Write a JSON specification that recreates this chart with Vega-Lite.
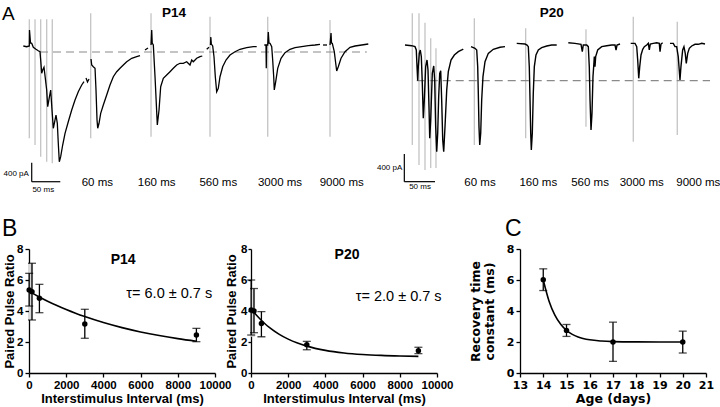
{
"$schema": "https://vega.github.io/schema/vega-lite/v6.json",
"background": "white",
"padding": {"left": 2, "top": 0, "right": 0, "bottom": 0},
"autosize": {"type": "pad"},
"spacing": 18,
"config": {
  "view": {"stroke": null},
  "axis": {"labelFont": "Liberation Sans", "labelFontWeight": "bold", "labelFontSize": 11.5, "labelColor": "black", "titleFont": "Liberation Sans", "titleFontWeight": "bold", "titleFontSize": 13, "titleColor": "black", "domainColor": "black", "tickColor": "black", "domainWidth": 1.3, "tickWidth": 1.3, "tickSize": 4, "grid": false, "labelPadding": 2, "titlePadding": 2, "labelFlush": false, "labelOverlap": false},
  "text": {"font": "Liberation Sans", "color": "black"},
  "title": {"font": "Liberation Sans", "color": "black"}
},
"datasets": {
  "tr14": [
    {"s":"1","t":-1.2,"I":126},{"s":"1","t":4.7,"I":111},{"s":"1","t":9.3,"I":126},{"s":"1","t":9.6,"I":462},{"s":"1","t":11.4,"I":189},{"s":"1","t":13.5,"I":183},{"s":"1","t":16.3,"I":99},{"s":"1","t":21,"I":57},{"s":"1","t":25,"I":27},{"s":"1","t":28,"I":6},{"s":"1","t":29.2,"I":-168},{"s":"1","t":31,"I":-447},{"s":"1","t":32.7,"I":-378},{"s":"1","t":35,"I":-321},{"s":"1","t":37.3,"I":-552},{"s":"1","t":39.7,"I":-798},{"s":"1","t":41.5,"I":-1149},{"s":"1","t":44.3,"I":-951},{"s":"1","t":46.7,"I":-798},{"s":"1","t":49,"I":-1218},{"s":"1","t":51.3,"I":-1602},{"s":"1","t":53.7,"I":-1464},{"s":"1","t":56,"I":-1323},{"s":"1","t":58.3,"I":-1497},{"s":"1","t":60,"I":-1917},{"s":"1","t":61.8,"I":-2304},{"s":"1","t":64.2,"I":-2199},{"s":"1","t":67.7,"I":-1953},{"s":"1","t":71.8,"I":-1707},{"s":"1","t":77.5,"I":-1464},{"s":"1","t":83.5,"I":-1218},{"s":"1","t":89.3,"I":-1008},{"s":"1","t":95,"I":-834},{"s":"1","t":101,"I":-693},{"s":"1","t":105,"I":-624},
    {"s":"1a","t":108.5,"I":-546},{"s":"1a","t":111.1,"I":-630},{"s":"1a","t":113.8,"I":-567},
    {"s":"2","t":117.3,"I":-147},{"s":"2","t":118.5,"I":-273},{"s":"2","t":121.3,"I":-309},{"s":"2","t":124.3,"I":-342},{"s":"2","t":126,"I":-798},{"s":"2","t":127.8,"I":-1428},{"s":"2","t":129,"I":-1602},{"s":"2","t":131.3,"I":-1497},{"s":"2","t":134.2,"I":-1287},{"s":"2","t":138.8,"I":-1113},{"s":"2","t":144.7,"I":-903},{"s":"2","t":150.5,"I":-693},{"s":"2","t":156.3,"I":-519},{"s":"2","t":162.2,"I":-414},{"s":"2","t":168,"I":-342},{"s":"2","t":173.8,"I":-273},{"s":"2","t":179.7,"I":-204},{"s":"2","t":188.5,"I":-132},{"s":"2","t":197.2,"I":-99},{"s":"2","t":203,"I":-78},
    {"s":"3a","t":211.8,"I":42},{"s":"3a","t":217,"I":84},
    {"s":"3","t":222.3,"I":147},{"s":"3","t":223.5,"I":462},{"s":"3","t":224.4,"I":189},{"s":"3","t":226.3,"I":147},{"s":"3","t":229.3,"I":-519},{"s":"3","t":233.3,"I":-1533},{"s":"3","t":236.3,"I":-1218},{"s":"3","t":239.2,"I":-729},{"s":"3","t":243.8,"I":-552},{"s":"3","t":249.7,"I":-483},{"s":"3","t":255.5,"I":-414},{"s":"3","t":261.3,"I":-342},{"s":"3","t":267.2,"I":-273},{"s":"3","t":273,"I":-237},{"s":"3","t":278.8,"I":-237},{"s":"3","t":284.7,"I":-204},{"s":"3","t":290.5,"I":-273},{"s":"3","t":293.5,"I":-168},{"s":"3","t":296.3,"I":-204},{"s":"3","t":302.2,"I":-132},{"s":"3","t":308,"I":-99},{"s":"3","t":312,"I":-84},
    {"s":"4a","t":319.7,"I":57},{"s":"4a","t":323.8,"I":99},
    {"s":"4","t":326.4,"I":147},{"s":"4","t":326.9,"I":315},{"s":"4","t":327.8,"I":168},{"s":"4","t":330.2,"I":126},{"s":"4","t":332.5,"I":-99},{"s":"4","t":334.8,"I":-519},{"s":"4","t":337.2,"I":-834},{"s":"4","t":340,"I":-762},{"s":"4","t":343,"I":-519},{"s":"4","t":347.7,"I":-309},{"s":"4","t":353.5,"I":-168},{"s":"4","t":360.5,"I":-63},{"s":"4","t":369.3,"I":6},{"s":"4","t":378,"I":57},{"s":"4","t":389.7,"I":90},{"s":"4","t":401.3,"I":111},{"s":"4","t":407.2,"I":111},
    {"s":"5","t":420.5,"I":147},{"s":"5","t":423.5,"I":147},{"s":"5","t":424,"I":-342},{"s":"5","t":424.5,"I":147},{"s":"5","t":426.5,"I":147},{"s":"5","t":427.5,"I":420},{"s":"5","t":428.8,"I":189},{"s":"5","t":430.5,"I":183},{"s":"5","t":433.5,"I":111},{"s":"5","t":435.2,"I":-168},{"s":"5","t":437,"I":-519},{"s":"5","t":438,"I":-798},{"s":"5","t":440.5,"I":-624},{"s":"5","t":444,"I":-342},{"s":"5","t":449.8,"I":-132},{"s":"5","t":456.8,"I":-15},{"s":"5","t":465.5,"I":57},{"s":"5","t":474.3,"I":90},{"s":"5","t":486,"I":111},{"s":"5","t":497.5,"I":132},{"s":"5","t":509.3,"I":147},{"s":"5","t":518,"I":162},
    {"s":"6a","t":523.3,"I":147},{"s":"6a","t":530.3,"I":147},
    {"s":"6","t":535.5,"I":147},{"s":"6","t":537.3,"I":399},{"s":"6","t":538.1,"I":189},{"s":"6","t":539.5,"I":183},{"s":"6","t":543,"I":6},{"s":"6","t":545.5,"I":-237},{"s":"6","t":547.2,"I":-399},{"s":"6","t":550,"I":-309},{"s":"6","t":554.8,"I":-132},{"s":"6","t":561.8,"I":6},{"s":"6","t":570.5,"I":99},{"s":"6","t":579.3,"I":126},{"s":"6","t":591,"I":147},{"s":"6","t":602.5,"I":168}
  ],
  "st14": [
    {"t":9.3,"a":687,"b":-1812},{"t":19.3,"a":687,"b":-1953},{"t":29.2,"a":687,"b":-2199},{"t":39.7,"a":687,"b":-2304},{"t":49.5,"a":687,"b":-2337},
    {"t":116.7,"a":813,"b":-1812},{"t":222.3,"a":813,"b":-1779},{"t":325.5,"a":741,"b":-1779},{"t":426.5,"a":741,"b":-1779},{"t":535.5,"a":672,"b":-1779}
  ],
  "sb14": [{"t1":13.5,"t2":13.5,"I1":-2724,"I2":-2324},{"t1":13.5,"t2":63.5,"I1":-2724,"I2":-2724}],
  "dash14": [{"t1":28,"t2":600,"I":0}],
  "lab14": [{"t":128.3,"I":-2745,"txt":"60 ms"},{"t":232.2,"I":-2745,"txt":"160 ms"},{"t":340,"I":-2745,"txt":"560 ms"},{"t":448,"I":-2745,"txt":"3000 ms"},{"t":556,"I":-2745,"txt":"9000 ms"}],
  "tr20": [
    {"s":"1","t":0,"I":0},{"s":"1","t":10.9,"I":-10},{"s":"1","t":16.3,"I":-24},{"s":"1","t":18.4,"I":-72},{"s":"1","t":19.6,"I":-312},{"s":"1","t":20.7,"I":-514},{"s":"1","t":21.7,"I":-312},{"s":"1","t":23.3,"I":-120},{"s":"1","t":24.9,"I":-72},{"s":"1","t":26.6,"I":-168},{"s":"1","t":28.2,"I":-552},{"s":"1","t":29.8,"I":-1056},{"s":"1","t":31.5,"I":-792},{"s":"1","t":33.7,"I":-312},{"s":"1","t":35.9,"I":-216},{"s":"1","t":37.5,"I":-360},{"s":"1","t":39.1,"I":-888},{"s":"1","t":40.3,"I":-1344},{"s":"1","t":41.9,"I":-1080},{"s":"1","t":44.5,"I":-408},{"s":"1","t":46.8,"I":-302},{"s":"1","t":48.4,"I":-504},{"s":"1","t":50,"I":-1176},{"s":"1","t":51.7,"I":-1536},{"s":"1","t":53.3,"I":-1272},{"s":"1","t":54.9,"I":-744},{"s":"1","t":56.6,"I":-408},{"s":"1","t":58.2,"I":-370},{"s":"1","t":59.8,"I":-792},{"s":"1","t":61.5,"I":-1368},{"s":"1","t":63.1,"I":-1536},{"s":"1","t":65.2,"I":-1176},{"s":"1","t":68,"I":-648},{"s":"1","t":70.6,"I":-384},{"s":"1","t":75,"I":-216},{"s":"1","t":80.4,"I":-144},{"s":"1","t":86.9,"I":-96},{"s":"1","t":92.4,"I":-72},{"s":"1","t":95,"I":-58},
    {"s":"2","t":107.6,"I":-24},{"s":"2","t":114.1,"I":-48},{"s":"2","t":116.9,"I":-72},{"s":"2","t":118.5,"I":-312},{"s":"2","t":119.5,"I":-696},{"s":"2","t":120.6,"I":-1176},{"s":"2","t":121.8,"I":-1440},{"s":"2","t":123.4,"I":-1272},{"s":"2","t":125,"I":-792},{"s":"2","t":127.1,"I":-456},{"s":"2","t":130.4,"I":-240},{"s":"2","t":135.8,"I":-120},{"s":"2","t":143.9,"I":-62},{"s":"2","t":154.9,"I":-33},{"s":"2","t":163,"I":-24},
    {"s":"3","t":182.1,"I":24},{"s":"3","t":195.6,"I":14},{"s":"3","t":198.9,"I":0},{"s":"3","t":201,"I":-24},{"s":"3","t":202.6,"I":-312},{"s":"3","t":203.8,"I":-792},{"s":"3","t":204.9,"I":-1272},{"s":"3","t":205.9,"I":-1512},{"s":"3","t":207.5,"I":-1272},{"s":"3","t":209.1,"I":-696},{"s":"3","t":210.8,"I":-312},{"s":"3","t":213.5,"I":-144},{"s":"3","t":217.3,"I":-72},{"s":"3","t":222.8,"I":-39},{"s":"3","t":231,"I":-14},{"s":"3","t":239.1,"I":0},{"s":"3","t":247.3,"I":0},
    {"s":"4","t":266.2,"I":33},{"s":"4","t":277.1,"I":24},{"s":"4","t":286.9,"I":10},{"s":"4","t":289,"I":-96},{"s":"4","t":290.6,"I":0},{"s":"4","t":296.2,"I":0},{"s":"4","t":298.8,"I":-24},{"s":"4","t":300.4,"I":-312},{"s":"4","t":301.6,"I":-792},{"s":"4","t":303.2,"I":-1224},{"s":"4","t":304.8,"I":-984},{"s":"4","t":306.4,"I":-456},{"s":"4","t":308.1,"I":-240},{"s":"4","t":308.6,"I":-168},{"s":"4","t":309.7,"I":-312},{"s":"4","t":310.8,"I":-168},{"s":"4","t":314.1,"I":-72},{"s":"4","t":320.6,"I":-24},{"s":"4","t":328.8,"I":-10},{"s":"4","t":336.9,"I":0},{"s":"4","t":342.3,"I":0},{"s":"4","t":344,"I":-72},{"s":"4","t":345.6,"I":0},{"s":"4","t":350.5,"I":14},
    {"s":"5","t":367.9,"I":24},{"s":"5","t":374.9,"I":24},{"s":"5","t":377.7,"I":-24},{"s":"5","t":379.3,"I":-216},{"s":"5","t":381,"I":-480},{"s":"5","t":382.6,"I":-312},{"s":"5","t":384.7,"I":-144},{"s":"5","t":387.5,"I":-62},{"s":"5","t":390.1,"I":-24},{"s":"5","t":394,"I":0},{"s":"5","t":396.6,"I":24},{"s":"5","t":398.2,"I":-72},{"s":"5","t":399.8,"I":14},{"s":"5","t":404.7,"I":24},{"s":"5","t":410.3,"I":33},{"s":"5","t":414.5,"I":24},{"s":"5","t":415.7,"I":-96},{"s":"5","t":417.3,"I":14},{"s":"5","t":420,"I":33},
    {"s":"6","t":431.9,"I":24},{"s":"6","t":437.3,"I":24},{"s":"6","t":440.1,"I":-24},{"s":"6","t":442.8,"I":-24},{"s":"6","t":445.4,"I":-168},{"s":"6","t":448.2,"I":-504},{"s":"6","t":449.8,"I":-312},{"s":"6","t":452.6,"I":-72},{"s":"6","t":454.7,"I":-24},{"s":"6","t":456.8,"I":-120},{"s":"6","t":458.5,"I":-264},{"s":"6","t":460.8,"I":-120},{"s":"6","t":463.4,"I":-48},{"s":"6","t":467.3,"I":-14},{"s":"6","t":472.7,"I":10},{"s":"6","t":478.1,"I":10},{"s":"6","t":483.7,"I":24},{"s":"6","t":489,"I":14}
  ],
  "st20": [
    {"t":11.9,"a":456,"b":-1440},{"t":22.8,"a":456,"b":-1728},{"t":32.6,"a":321,"b":-1800},{"t":41.9,"a":96,"b":-1771},{"t":50.5,"a":-48,"b":-1771},
    {"t":113,"a":384,"b":-1440},{"t":196.7,"a":240,"b":-1344},{"t":295,"a":226,"b":-1176},{"t":372.1,"a":408,"b":-1392},{"t":443.8,"a":336,"b":-1296}
  ],
  "sb20": [{"t1":-1.1,"t2":-1.1,"I1":-1968,"I2":-1568},{"t1":-1.1,"t2":48.9,"I1":-1968,"I2":-1968}],
  "dash20": [{"t1":19.1,"t2":497.2,"I":-514}],
  "lab20": [{"t":122.3,"I":-1983,"txt":"60 ms"},{"t":217.3,"I":-1983,"txt":"160 ms"},{"t":301.6,"I":-1983,"txt":"560 ms"},{"t":385.8,"I":-1983,"txt":"3000 ms"},{"t":478.1,"I":-1983,"txt":"9000 ms"}],
  "b14": [{"x":10,"y":5.35,"lo":4.32,"hi":6.43},{"x":160,"y":5.25,"lo":3.42,"hi":7.08},{"x":560,"y":4.82,"lo":3.89,"hi":5.72},{"x":3000,"y":3.16,"lo":2.24,"hi":4.11},{"x":9000,"y":2.45,"lo":2.02,"hi":2.88}],
  "b14box": [{"x":0,"xe":220,"lo":3.42,"hi":7.08}],
  "b14fit": [{"x":100,"y":5.2},{"x":500,"y":4.94},{"x":1000,"y":4.634},{"x":1500,"y":4.353},{"x":2000,"y":4.095},{"x":2500,"y":3.857},{"x":3000,"y":3.639},{"x":4000,"y":3.253},{"x":5000,"y":2.926},{"x":6000,"y":2.65},{"x":7000,"y":2.416},{"x":8000,"y":2.218},{"x":9000,"y":2.05}],
  "b20": [{"x":10,"y":4.06,"lo":2.45,"hi":6.0},{"x":160,"y":4.0,"lo":2.6,"hi":5.45},{"x":560,"y":3.2,"lo":2.34,"hi":3.96},{"x":3000,"y":1.83,"lo":1.5,"hi":2.04},{"x":9000,"y":1.44,"lo":1.25,"hi":1.66}],
  "b20box": [{"x":0,"xe":220,"lo":2.34,"hi":5.35}],
  "b20fit": [{"x":50,"y":4.075},{"x":250,"y":3.786},{"x":500,"y":3.464},{"x":750,"y":3.179},{"x":1000,"y":2.927},{"x":1500,"y":2.51},{"x":2000,"y":2.185},{"x":2500,"y":1.932},{"x":3000,"y":1.734},{"x":4000,"y":1.461},{"x":5000,"y":1.295},{"x":6000,"y":1.195},{"x":7000,"y":1.134},{"x":8000,"y":1.097},{"x":9000,"y":1.075}],
  "cpts": [{"x":14,"y":6.01,"lo":5.32,"hi":6.72},{"x":15,"y":2.75,"lo":2.36,"hi":3.13},{"x":17,"y":2.0,"lo":0.75,"hi":3.28},{"x":20,"y":2.0,"lo":1.29,"hi":2.7}],
  "cfit": [{"x":14,"y":6.0},{"x":14.25,"y":4.631},{"x":14.5,"y":3.731},{"x":14.75,"y":3.139},{"x":15,"y":2.749},{"x":15.25,"y":2.493},{"x":15.5,"y":2.324},{"x":16,"y":2.14},{"x":16.5,"y":2.061},{"x":17,"y":2.026},{"x":18,"y":2.005},{"x":19,"y":2.0},{"x":20,"y":2.0}]
},
"vconcat": [
  {
    "bounds": "flush",
    "spacing": 25,
    "hconcat": [
      {
        "width": 346, "height": 200,
        "layer": [
          {"data": {"name": "st14"}, "mark": {"type": "rule", "color": "#c4c4c4", "strokeWidth": 1.3},
           "encoding": {"x": {"field": "t", "type": "quantitative", "scale": {"domain": [8.75, 614.25], "nice": false, "zero": false}, "axis": null},
                        "y": {"field": "a", "type": "quantitative", "scale": {"domain": [-3108, 1092], "nice": false, "zero": false}, "axis": null},
                        "y2": {"field": "b"}}},
          {"data": {"name": "dash14"}, "mark": {"type": "rule", "color": "#8a8a8a", "strokeWidth": 1.2, "strokeDash": [8, 5]},
           "encoding": {"x": {"field": "t1", "type": "quantitative", "axis": null}, "x2": {"field": "t2"}, "y": {"field": "I", "type": "quantitative", "axis": null}}},
          {"data": {"name": "tr14"}, "mark": {"type": "line", "color": "black", "strokeWidth": 1.3},
           "encoding": {"x": {"field": "t", "type": "quantitative", "axis": null}, "y": {"field": "I", "type": "quantitative", "axis": null}, "detail": {"field": "s"}}},
          {"data": {"name": "sb14"}, "mark": {"type": "rule", "color": "black", "strokeWidth": 1.2},
           "encoding": {"x": {"field": "t1", "type": "quantitative", "axis": null}, "x2": {"field": "t2"}, "y": {"field": "I1", "type": "quantitative", "axis": null}, "y2": {"field": "I2"}}},
          {"data": {"name": "lab14"}, "mark": {"type": "text", "fontSize": 11.5, "baseline": "middle"},
           "encoding": {"x": {"field": "t", "type": "quantitative", "axis": null}, "y": {"field": "I", "type": "quantitative", "axis": null}, "text": {"field": "txt"}}},
          {"data": {"values": [{"t": 8.5, "I": -2562, "txt": "400 pA"}]}, "mark": {"type": "text", "fontSize": 8, "align": "right", "baseline": "middle"},
           "encoding": {"x": {"field": "t", "type": "quantitative", "axis": null}, "y": {"field": "I", "type": "quantitative", "axis": null}, "text": {"field": "txt"}}},
          {"data": {"values": [{"t": 33.8, "I": -2898, "txt": "50 ms"}]}, "mark": {"type": "text", "fontSize": 8, "baseline": "middle"},
           "encoding": {"x": {"field": "t", "type": "quantitative", "axis": null}, "y": {"field": "I", "type": "quantitative", "axis": null}, "text": {"field": "txt"}}},
          {"data": {"values": [{"t": 262.5, "I": 819, "txt": "P14"}]}, "mark": {"type": "text", "fontSize": 13.5, "fontWeight": "bold", "baseline": "middle"},
           "encoding": {"x": {"field": "t", "type": "quantitative", "axis": null}, "y": {"field": "I", "type": "quantitative", "axis": null}, "text": {"field": "txt"}}},
          {"data": {"values": [{"t": -38.5, "I": 672, "txt": "A"}]}, "mark": {"type": "text", "fontSize": 19, "align": "left", "baseline": "alphabetic"},
           "encoding": {"x": {"field": "t", "type": "quantitative", "axis": null}, "y": {"field": "I", "type": "quantitative", "axis": null}, "text": {"field": "txt"}}}
        ]
      },
      {
        "width": 320, "height": 200,
        "layer": [
          {"data": {"name": "st20"}, "mark": {"type": "rule", "color": "#c4c4c4", "strokeWidth": 1.3},
           "encoding": {"x": {"field": "t", "type": "quantitative", "scale": {"domain": [-8.15, 513.45], "nice": false, "zero": false}, "axis": null},
                        "y": {"field": "a", "type": "quantitative", "scale": {"domain": [-2232, 648], "nice": false, "zero": false}, "axis": null},
                        "y2": {"field": "b"}}},
          {"data": {"name": "dash20"}, "mark": {"type": "rule", "color": "#8a8a8a", "strokeWidth": 1.2, "strokeDash": [8, 5]},
           "encoding": {"x": {"field": "t1", "type": "quantitative", "axis": null}, "x2": {"field": "t2"}, "y": {"field": "I", "type": "quantitative", "axis": null}}},
          {"data": {"name": "tr20"}, "mark": {"type": "line", "color": "black", "strokeWidth": 1.4},
           "encoding": {"x": {"field": "t", "type": "quantitative", "axis": null}, "y": {"field": "I", "type": "quantitative", "axis": null}, "detail": {"field": "s"}}},
          {"data": {"name": "sb20"}, "mark": {"type": "rule", "color": "black", "strokeWidth": 1.2},
           "encoding": {"x": {"field": "t1", "type": "quantitative", "axis": null}, "x2": {"field": "t2"}, "y": {"field": "I1", "type": "quantitative", "axis": null}, "y2": {"field": "I2"}}},
          {"data": {"name": "lab20"}, "mark": {"type": "text", "fontSize": 11.5, "baseline": "middle"},
           "encoding": {"x": {"field": "t", "type": "quantitative", "axis": null}, "y": {"field": "I", "type": "quantitative", "axis": null}, "text": {"field": "txt"}}},
          {"data": {"values": [{"t": -4.4, "I": -1776, "txt": "400 pA"}]}, "mark": {"type": "text", "fontSize": 8, "align": "right", "baseline": "middle"},
           "encoding": {"x": {"field": "t", "type": "quantitative", "axis": null}, "y": {"field": "I", "type": "quantitative", "axis": null}, "text": {"field": "txt"}}},
          {"data": {"values": [{"t": 24.5, "I": -2049, "txt": "50 ms"}]}, "mark": {"type": "text", "fontSize": 8, "baseline": "middle"},
           "encoding": {"x": {"field": "t", "type": "quantitative", "axis": null}, "y": {"field": "I", "type": "quantitative", "axis": null}, "text": {"field": "txt"}}},
          {"data": {"values": [{"t": 239.1, "I": 456, "txt": "P20"}]}, "mark": {"type": "text", "fontSize": 13.5, "fontWeight": "bold", "baseline": "middle"},
           "encoding": {"x": {"field": "t", "type": "quantitative", "axis": null}, "y": {"field": "I", "type": "quantitative", "axis": null}, "text": {"field": "txt"}}}
        ]
      }
    ]
  },
  {
    "spacing": 16,
    "hconcat": [
      {
        "bounds": "flush",
        "spacing": 36,
        "hconcat": [
          {
            "width": 186, "height": 124,
            "title": {"text": "B", "anchor": "start", "frame": "group", "fontSize": 23, "fontWeight": "normal", "dx": -27, "offset": 2},
            "layer": [
              {"data": {"name": "b14box"}, "mark": {"type": "rect", "color": "#d9d9d9"},
               "encoding": {"x": {"field": "x", "type": "quantitative", "title": "Interstimulus Interval (ms)", "scale": {"domain": [0, 10000], "nice": false, "zero": false}, "axis": {"values": [0, 2000, 4000, 6000, 8000, 10000], "format": "d"}},
                            "x2": {"field": "xe"},
                            "y": {"field": "lo", "type": "quantitative", "title": "Paired Pulse Ratio", "scale": {"domain": [0, 8], "nice": false}, "axis": {"values": [0, 2, 4, 6, 8], "format": "d", "titlePadding": 0}},
                            "y2": {"field": "hi"}}},
              {"data": {"name": "b14"}, "mark": {"type": "rule", "color": "black", "strokeWidth": 1.3},
               "encoding": {"x": {"field": "x", "type": "quantitative", "title": "Interstimulus Interval (ms)", "axis": {"values": [0, 2000, 4000, 6000, 8000, 10000], "format": "d"}}, "y": {"field": "lo", "type": "quantitative", "title": "Paired Pulse Ratio", "axis": {"values": [0, 2, 4, 6, 8], "format": "d", "titlePadding": 0}}, "y2": {"field": "hi"}}},
              {"data": {"name": "b14"}, "transform": [{"fold": ["lo", "hi"], "as": ["k", "v"]}], "mark": {"type": "tick", "orient": "horizontal", "color": "black", "size": 8, "thickness": 1.3},
               "encoding": {"x": {"field": "x", "type": "quantitative", "title": "Interstimulus Interval (ms)", "axis": {"values": [0, 2000, 4000, 6000, 8000, 10000], "format": "d"}}, "y": {"field": "v", "type": "quantitative", "title": "Paired Pulse Ratio", "axis": {"values": [0, 2, 4, 6, 8], "format": "d", "titlePadding": 0}}}},
              {"data": {"name": "b14fit"}, "mark": {"type": "line", "color": "black", "strokeWidth": 1.6, "interpolate": "monotone"},
               "encoding": {"x": {"field": "x", "type": "quantitative", "title": "Interstimulus Interval (ms)", "axis": {"values": [0, 2000, 4000, 6000, 8000, 10000], "format": "d"}}, "y": {"field": "y", "type": "quantitative", "title": "Paired Pulse Ratio", "axis": {"values": [0, 2, 4, 6, 8], "format": "d", "titlePadding": 0}}}},
              {"data": {"name": "b14"}, "mark": {"type": "point", "filled": true, "color": "black", "size": 30, "opacity": 1},
               "encoding": {"x": {"field": "x", "type": "quantitative", "title": "Interstimulus Interval (ms)", "axis": {"values": [0, 2000, 4000, 6000, 8000, 10000], "format": "d"}}, "y": {"field": "y", "type": "quantitative", "title": "Paired Pulse Ratio", "axis": {"values": [0, 2, 4, 6, 8], "format": "d", "titlePadding": 0}}}},
              {"data": {"values": [{"x": 5063, "y": 7.31, "txt": "P14"}]}, "mark": {"type": "text", "fontSize": 14, "fontWeight": "bold", "baseline": "middle"},
               "encoding": {"x": {"field": "x", "type": "quantitative", "title": "Interstimulus Interval (ms)", "axis": {"values": [0, 2000, 4000, 6000, 8000, 10000], "format": "d"}}, "y": {"field": "y", "type": "quantitative", "title": "Paired Pulse Ratio", "axis": {"values": [0, 2, 4, 6, 8], "format": "d", "titlePadding": 0}}, "text": {"field": "txt"}}},
              {"data": {"values": [{"x": 7540, "y": 5.1, "txt": "τ= 6.0 ± 0.7 s"}]}, "mark": {"type": "text", "fontSize": 14.5, "baseline": "middle"},
               "encoding": {"x": {"field": "x", "type": "quantitative", "title": "Interstimulus Interval (ms)", "axis": {"values": [0, 2000, 4000, 6000, 8000, 10000], "format": "d"}}, "y": {"field": "y", "type": "quantitative", "title": "Paired Pulse Ratio", "axis": {"values": [0, 2, 4, 6, 8], "format": "d", "titlePadding": 0}}, "text": {"field": "txt"}}}
            ]
          },
          {
            "width": 186, "height": 124,
            "layer": [
              {"data": {"name": "b20box"}, "mark": {"type": "rect", "color": "#d9d9d9"},
               "encoding": {"x": {"field": "x", "type": "quantitative", "title": "Interstimulus Interval (ms)", "scale": {"domain": [0, 10000], "nice": false, "zero": false}, "axis": {"values": [0, 2000, 4000, 6000, 8000, 10000], "format": "d"}},
                            "x2": {"field": "xe"},
                            "y": {"field": "lo", "type": "quantitative", "title": "Paired Pulse Ratio", "scale": {"domain": [0, 8], "nice": false}, "axis": {"values": [0, 2, 4, 6, 8], "format": "d", "tickSize": 3, "labelPadding": 1}},
                            "y2": {"field": "hi"}}},
              {"data": {"name": "b20"}, "mark": {"type": "rule", "color": "black", "strokeWidth": 1.3},
               "encoding": {"x": {"field": "x", "type": "quantitative", "title": "Interstimulus Interval (ms)", "axis": {"values": [0, 2000, 4000, 6000, 8000, 10000], "format": "d"}}, "y": {"field": "lo", "type": "quantitative", "title": "Paired Pulse Ratio", "axis": {"values": [0, 2, 4, 6, 8], "format": "d", "tickSize": 3, "labelPadding": 1}}, "y2": {"field": "hi"}}},
              {"data": {"name": "b20"}, "transform": [{"fold": ["lo", "hi"], "as": ["k", "v"]}], "mark": {"type": "tick", "orient": "horizontal", "color": "black", "size": 8, "thickness": 1.3},
               "encoding": {"x": {"field": "x", "type": "quantitative", "title": "Interstimulus Interval (ms)", "axis": {"values": [0, 2000, 4000, 6000, 8000, 10000], "format": "d"}}, "y": {"field": "v", "type": "quantitative", "title": "Paired Pulse Ratio", "axis": {"values": [0, 2, 4, 6, 8], "format": "d", "tickSize": 3, "labelPadding": 1}}}},
              {"data": {"name": "b20fit"}, "mark": {"type": "line", "color": "black", "strokeWidth": 1.6, "interpolate": "monotone"},
               "encoding": {"x": {"field": "x", "type": "quantitative", "title": "Interstimulus Interval (ms)", "axis": {"values": [0, 2000, 4000, 6000, 8000, 10000], "format": "d"}}, "y": {"field": "y", "type": "quantitative", "title": "Paired Pulse Ratio", "axis": {"values": [0, 2, 4, 6, 8], "format": "d", "tickSize": 3, "labelPadding": 1}}}},
              {"data": {"name": "b20"}, "mark": {"type": "point", "filled": true, "color": "black", "size": 30, "opacity": 1},
               "encoding": {"x": {"field": "x", "type": "quantitative", "title": "Interstimulus Interval (ms)", "axis": {"values": [0, 2000, 4000, 6000, 8000, 10000], "format": "d"}}, "y": {"field": "y", "type": "quantitative", "title": "Paired Pulse Ratio", "axis": {"values": [0, 2, 4, 6, 8], "format": "d", "tickSize": 3, "labelPadding": 1}}}},
              {"data": {"values": [{"x": 5161, "y": 7.63, "txt": "P20"}]}, "mark": {"type": "text", "fontSize": 14, "fontWeight": "bold", "baseline": "middle"},
               "encoding": {"x": {"field": "x", "type": "quantitative", "title": "Interstimulus Interval (ms)", "axis": {"values": [0, 2000, 4000, 6000, 8000, 10000], "format": "d"}}, "y": {"field": "y", "type": "quantitative", "title": "Paired Pulse Ratio", "axis": {"values": [0, 2, 4, 6, 8], "format": "d", "tickSize": 3, "labelPadding": 1}}, "text": {"field": "txt"}}},
              {"data": {"values": [{"x": 7939, "y": 4.9, "txt": "τ= 2.0 ± 0.7 s"}]}, "mark": {"type": "text", "fontSize": 14.5, "baseline": "middle"},
               "encoding": {"x": {"field": "x", "type": "quantitative", "title": "Interstimulus Interval (ms)", "axis": {"values": [0, 2000, 4000, 6000, 8000, 10000], "format": "d"}}, "y": {"field": "y", "type": "quantitative", "title": "Paired Pulse Ratio", "axis": {"values": [0, 2, 4, 6, 8], "format": "d", "tickSize": 3, "labelPadding": 1}}, "text": {"field": "txt"}}}
            ]
          }
        ]
      },
      {
        "width": 186, "height": 124,
        "title": {"text": "C", "anchor": "start", "frame": "group", "fontSize": 23, "fontWeight": "normal", "dx": -15, "offset": 2},
        "layer": [
          {"data": {"name": "cpts"}, "mark": {"type": "rule", "color": "black", "strokeWidth": 1.3},
           "encoding": {"x": {"field": "x", "type": "quantitative", "title": "Age (days)", "scale": {"domain": [13, 21], "nice": false, "zero": false}, "axis": {"values": [13, 14, 15, 16, 17, 18, 19, 20, 21], "format": "d", "labelFont": "DejaVu Sans", "titleFont": "DejaVu Sans", "labelFontSize": 11, "titleFontSize": 12.5}},
                        "y": {"field": "lo", "type": "quantitative", "title": ["Recovery time", "constant (ms)"], "scale": {"domain": [0, 8], "nice": false}, "axis": {"values": [0, 2, 4, 6, 8], "format": "d", "labelFont": "DejaVu Sans", "titleFont": "DejaVu Sans", "labelFontSize": 11, "titleFontSize": 12.5, "titleLineHeight": 14, "titlePadding": 10}},
                        "y2": {"field": "hi"}}},
          {"data": {"name": "cpts"}, "transform": [{"fold": ["lo", "hi"], "as": ["k", "v"]}], "mark": {"type": "tick", "orient": "horizontal", "color": "black", "size": 8, "thickness": 1.3},
           "encoding": {"x": {"field": "x", "type": "quantitative", "title": "Age (days)", "axis": {"values": [13, 14, 15, 16, 17, 18, 19, 20, 21], "format": "d", "labelFont": "DejaVu Sans", "titleFont": "DejaVu Sans", "labelFontSize": 11, "titleFontSize": 12.5}}, "y": {"field": "v", "type": "quantitative", "title": ["Recovery time", "constant (ms)"], "axis": {"values": [0, 2, 4, 6, 8], "format": "d", "labelFont": "DejaVu Sans", "titleFont": "DejaVu Sans", "labelFontSize": 11, "titleFontSize": 12.5, "titleLineHeight": 14, "titlePadding": 10}}}},
          {"data": {"name": "cfit"}, "mark": {"type": "line", "color": "black", "strokeWidth": 1.6, "interpolate": "monotone"},
           "encoding": {"x": {"field": "x", "type": "quantitative", "title": "Age (days)", "axis": {"values": [13, 14, 15, 16, 17, 18, 19, 20, 21], "format": "d", "labelFont": "DejaVu Sans", "titleFont": "DejaVu Sans", "labelFontSize": 11, "titleFontSize": 12.5}}, "y": {"field": "y", "type": "quantitative", "title": ["Recovery time", "constant (ms)"], "axis": {"values": [0, 2, 4, 6, 8], "format": "d", "labelFont": "DejaVu Sans", "titleFont": "DejaVu Sans", "labelFontSize": 11, "titleFontSize": 12.5, "titleLineHeight": 14, "titlePadding": 10}}}},
          {"data": {"name": "cpts"}, "mark": {"type": "point", "filled": true, "color": "black", "size": 30, "opacity": 1},
           "encoding": {"x": {"field": "x", "type": "quantitative", "title": "Age (days)", "axis": {"values": [13, 14, 15, 16, 17, 18, 19, 20, 21], "format": "d", "labelFont": "DejaVu Sans", "titleFont": "DejaVu Sans", "labelFontSize": 11, "titleFontSize": 12.5}}, "y": {"field": "y", "type": "quantitative", "title": ["Recovery time", "constant (ms)"], "axis": {"values": [0, 2, 4, 6, 8], "format": "d", "labelFont": "DejaVu Sans", "titleFont": "DejaVu Sans", "labelFontSize": 11, "titleFontSize": 12.5, "titleLineHeight": 14, "titlePadding": 10}}}}
        ]
      }
    ]
  }
]
}
